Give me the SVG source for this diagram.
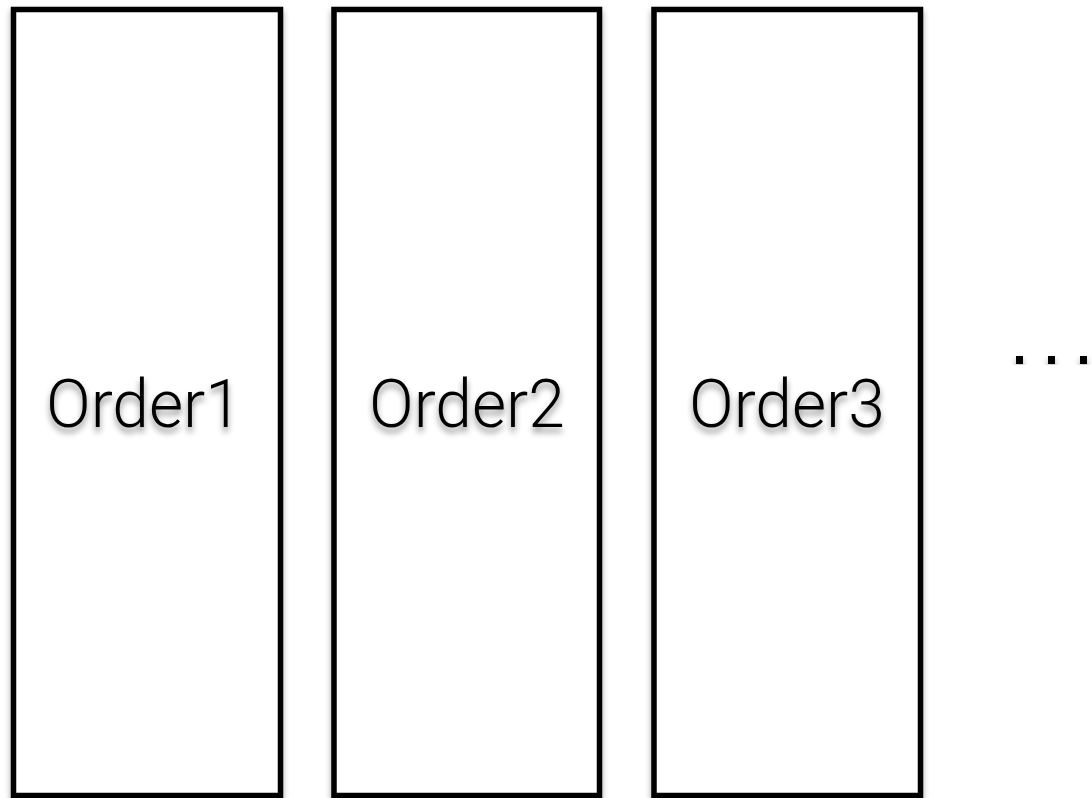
<svg xmlns="http://www.w3.org/2000/svg" width="1092" height="798" viewBox="0 0 1092 798">
<defs>
<filter id="sh" x="-10%" y="-10%" width="120%" height="120%">
<feDropShadow dx="0" dy="4" stdDeviation="3" flood-color="#000" flood-opacity="0.35"/>
</filter>
<filter id="tsh" x="-10%" y="-20%" width="120%" height="150%">
<feDropShadow dx="0" dy="5" stdDeviation="3" flood-color="#000" flood-opacity="0.45"/>
</filter>
</defs>
<style>
.box{fill:#fff;stroke:#000;stroke-width:5.5}
.lbl{font-family:Roboto,"Liberation Sans",sans-serif;font-weight:300;font-size:66px;fill:#000;text-anchor:middle}
</style>
<rect width="1092" height="798" fill="#fff"/>
<g id="connectors"></g>
<g id="order1">
<rect class="box" x="13.5" y="9.5" width="267" height="786" filter="url(#sh)"/>
<text class="lbl" x="144" y="427" filter="url(#tsh)">Order1</text>
</g>
<g id="order2">
<rect class="box" x="334" y="9.5" width="265.5" height="786" filter="url(#sh)"/>
<text class="lbl" x="467" y="427" filter="url(#tsh)">Order2</text>
</g>
<g id="order3">
<rect class="box" x="654" y="9.5" width="266.5" height="786" filter="url(#sh)"/>
<text class="lbl" x="787" y="427" filter="url(#tsh)">Order3</text>
</g>
<g id="ellipsis" filter="url(#sh)">
<rect x="1016" y="356" width="7" height="8" fill="#000"/>
<rect x="1048" y="356" width="7" height="8" fill="#000"/>
<rect x="1080" y="356" width="7" height="8" fill="#000"/>
</g>
</svg>
